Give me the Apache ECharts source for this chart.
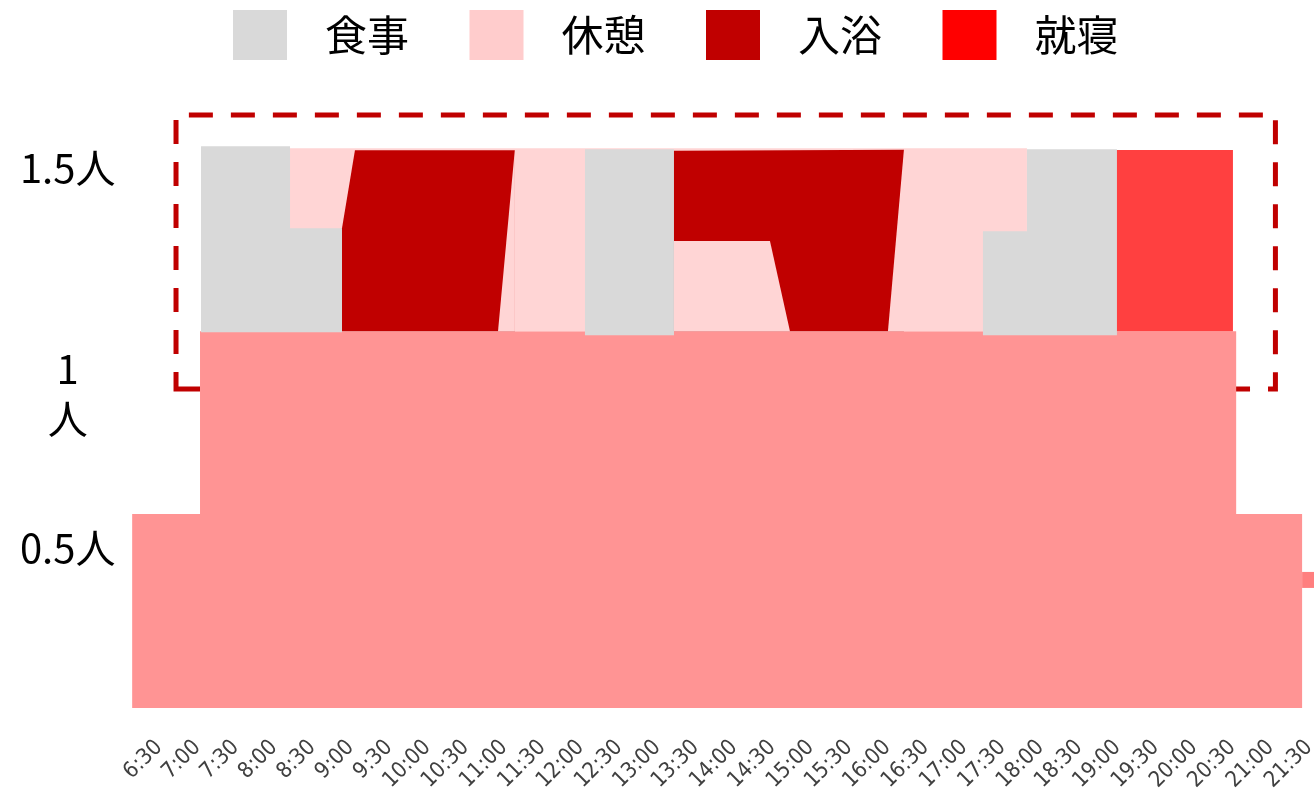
<!DOCTYPE html>
<html>
<head>
<meta charset="utf-8">
<script src="https://cdn.jsdelivr.net/npm/echarts@6/dist/echarts.min.js"></script>
<style>
  html, body { margin: 0; padding: 0; background: #fff; }
  #chart { width: 1314px; height: 794px; }
</style>
</head>
<body>
<div id="chart"></div>
<script>
// DATA (x = hour of day, y = staff count)

const timeLabels = [
  '6:30', '7:00', '7:30', '8:00', '8:30', '9:00', '9:30', '10:00', '10:30', '11:00',
  '11:30', '12:00', '12:30', '13:00', '13:30', '14:00', '14:30', '15:00', '15:30', '16:00',
  '16:30', '17:00', '17:30', '18:00', '18:30', '19:00', '19:30', '20:00', '20:30', '21:00', '21:30'
];
const yTicks = [0.5, 1, 1.5];
const yTickLabels = ['0.5人', '1\n人', '1.5人'];

const legendNames = ['食事', '休憩', '入浴', '就寝'];

// base staffing
const baseStaff = [[6.15, 0.5], [7.035, 0.5], [7.035, 1], [20.55, 1], [20.55, 0.5], [21.41, 0.5]];
const lateStub = [[21.41, 0.32], [21.6, 0.32]];

// 休憩 layer behind everything
const rest1 = [[8.209, 1.5], [17.821, 1.5]];
// 食事 blocks
const meal1 = [[7.048, 1.505], [8.209, 1.505], [8.209, 1.281], [8.887, 1.281]];
const meal2 = [[12.056, 1.497], [13.217, 1.497]];
const meal3 = [[17.247, 1.273], [17.821, 1.273], [17.821, 1.497], [18.995, 1.497]];
// 入浴 blocks
const bath1 = [[8.887, 1.281], [9.056, 1.494], [11.143, 1.494]];
const bath2 = [[13.217, 1.493], [16.217, 1.496]];
// 休憩 pieces on top of 入浴
const rest2 = [[10.922, 1.0], [11.143, 1.5]];
const rest3 = [[13.217, 1.246], [14.469, 1.246], [14.73, 1.0]];
const rest4 = [[16.008, 1.0], [16.217, 1.497]];
// 就寝
const sleep1 = [[18.995, 1.495], [20.508, 1.495]];

// dashed frame
const boxX = [6.722, 21.062];
const boxY = [0.842, 1.591];

// COLORS
const legendColors = ['#D9D9D9', '#FFCCCC', '#C00000', '#FF0000'];
const fillColors = { '食事': '#D9D9D9', '休憩': '#FFD5D5', '入浴': '#C00000', '就寝': '#FF4040' };

function band(name, data, origin, z) {
  const c = legendColors[legendNames.indexOf(name)];
  return {
    type: 'line',
    name: name,
    data: data,
    z: z,
    showSymbol: false,
    silent: true,
    itemStyle: { color: c },
    lineStyle: { width: 0, color: c },
    areaStyle: { color: fillColors[name], opacity: 1, origin: origin }
  };
}

var chart = echarts.init(document.getElementById('chart'));

chart.setOption({
  animation: false,
  backgroundColor: '#fff',
  grid: { left: 120.67, right: 5, top: 75, bottom: 86, outerBoundsMode: 'none' },
  legend: {
    left: 233,
    top: 10,
    padding: 0,
    icon: 'rect',
    itemWidth: 54,
    itemHeight: 50,
    itemGap: 60.5,
    selectedMode: false,
    itemStyle: { borderWidth: 0 },
    textStyle: { fontSize: 42, color: '#000', fontFamily: 'Noto Sans CJK JP', padding: [0, 0, 0, 33] },
    data: legendNames.map((n, i) => ({ name: n, itemStyle: { color: legendColors[i] } }))
  },
  xAxis: {
    type: 'value',
    min: 6,
    max: 21.5,
    interval: 0.5,
    axisLine: { show: false },
    axisTick: { show: false },
    splitLine: { show: false },
    axisLabel: {
      rotate: 45,
      margin: 36,
      fontSize: 22,
      color: '#404040',
      fontFamily: '"Liberation Sans Narrow", "DejaVu Sans Condensed", sans-serif',
      formatter: v => timeLabels[Math.round((v - 6.5) * 2)] || ''
    }
  },
  yAxis: {
    type: 'value',
    min: -0.03,
    max: 1.7,
    axisLine: { show: false },
    axisTick: { show: false },
    splitLine: { show: false },
    axisLabel: {
      customValues: yTicks,
      align: 'center',
      margin: 53,
      fontSize: 40,
      color: '#000',
      fontFamily: 'Noto Sans CJK JP',
      formatter: v => {
        const i = yTicks.indexOf(v);
        if (i < 0) return '';
        const parts = yTickLabels[i].split('\n');
        return parts.map((p, k) => k === 0 ? '{p' + i + '|' + p + '}' : '{n|' + p + '}').join('\n');
      },
      rich: {
        p0: { padding: [68, 0, 0, 0] },
        p1: { padding: [136, 0, 0, 0] },
        p2: { padding: [40, 0, 0, 0] },
        n: { lineHeight: 60 }
      }
    }
  },
  series: [
    {
      type: 'line',
      name: '配置',
      data: baseStaff,
      z: 2,
      showSymbol: false,
      silent: true,
      lineStyle: { width: 0 },
      areaStyle: { color: '#FF9494', opacity: 1, origin: 'start' },
      markArea: {
        silent: true,
        itemStyle: {
          color: 'rgba(0,0,0,0)',
          borderColor: '#C00000',
          borderWidth: 5,
          borderType: [24, 18]
        },
        data: [[{ coord: [boxX[0], boxY[0]] }, { coord: [boxX[1], boxY[1]] }]]
      }
    },
    band('休憩', rest1, 1.0, 3),
    band('食事', meal1, 0.997, 4),
    band('入浴', bath1, 1.0, 5),
    band('休憩', rest2, 1.0, 6),
    band('食事', meal2, 0.989, 7),
    band('入浴', bath2, 1.0, 8),
    band('休憩', rest3, 1.0, 9),
    band('休憩', rest4, 1.0, 10),
    band('食事', meal3, 0.989, 11),
    band('就寝', sleep1, 1.0, 12),
    {
      type: 'line',
      name: '延長',
      data: lateStub,
      z: 13,
      clip: false,
      showSymbol: false,
      silent: true,
      lineStyle: { width: 16, color: '#FF7F7F', cap: 'butt' }
    }
  ]
});
</script>
</body>
</html>
